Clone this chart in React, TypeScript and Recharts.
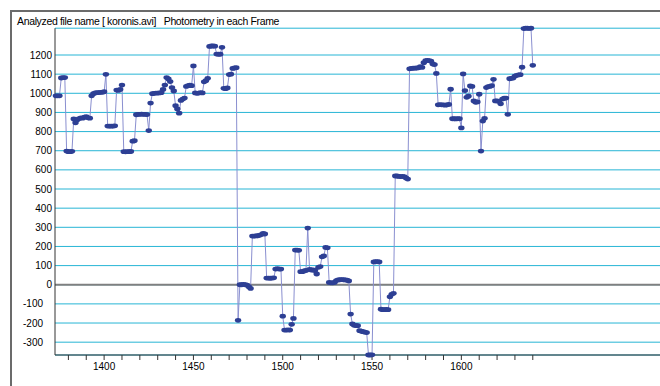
import React from "react";
import { LineChart, Line, XAxis, YAxis, CartesianGrid, ReferenceLine } from "recharts";

// photometry per frame, first frame = 1373
const firstFrame = 1373;
const brightness = [
  987, 987, 987, 1080, 1082, 1082, 698, 695, 695, 697,
  866, 846, 862, 868, 872, 870, 875, 878, 872, 870,
  987, 998, 1002, 1003, 1004, 1005, 1005, 1008, 1099, 829,
  829, 828, 829, 830, 1017, 1015, 1020, 1043, 695, 694,
  695, 695, 696, 750, 752, 888, 890, 890, 891, 890,
  890, 889, 805, 949, 998, 1000, 1001, 1001, 1002, 1003,
  1020, 1043, 1082, 1075, 1061, 1030, 1012, 935, 918, 896,
  963, 970, 975, 1036, 1040, 1042, 1040, 1143, 1002, 1000,
  1001, 1003, 1002, 1060, 1066, 1078, 1245, 1247, 1247, 1246,
  1205, 1204, 1204, 1240, 1026, 1024, 1028, 1098, 1100, 1130,
  1132, 1134, -186, 0, 0, 2, 0, -2, -10, -19,
  254, 254, 255, 256, 258, 262, 268, 265, 35, 35,
  34, 35, 36, 82, 84, 82, 82, -164, -237, -237,
  -236, -237, -207, -176, 181, 181, 180, 68, 68, 72,
  75, 296, 80, 77, 77, 75, 56, 91, 95, 146,
  150, 195, 193, 12, 10, 10, 12, 22, 25, 26,
  27, 26, 25, 24, 20, -153, -205, -212, -213, -214,
  -240, -243, -245, -248, -250, -367, -367, -366, 119, 120,
  121, 119, -128, -130, -130, -129, -130, -63, -50, -45,
  568, 568, 566, 565, 566, 565, 558, 552, 1128, 1130,
  1131, 1131, 1132, 1133, 1139, 1135, 1160, 1170, 1172, 1171,
  1168, 1153, 1150, 1104, 940, 941, 940, 940, 938, 940,
  942, 1021, 867, 867, 866, 868, 867, 819, 1101, 1014,
  979, 985, 1038, 1036, 960, 953, 955, 995, 698, 855,
  869, 1030, 1035, 1036, 1040, 1073, 960, 960, 958, 945,
  970, 974, 975, 890, 1076, 1078, 1080, 1090, 1094, 1096,
  1097, 1136, 1338, 1340, 1340, 1339, 1340, 1146,
];

const xTicks = [
  1380, 1390, 1400, 1410, 1420, 1430, 1440, 1450, 1460, 1470,
  1480, 1490, 1500, 1510, 1520, 1530, 1540, 1550, 1560, 1570,
  1580, 1590, 1600, 1610, 1620, 1630, 1640,
];
const xLabels = [1400, 1450, 1500, 1550, 1600];
const yTicks = [-300, -200, -100, 0, 100, 200, 300, 400, 500, 600, 700, 800, 900, 1000, 1100, 1200];

const data = brightness.map((v, i) => ({ frame: firstFrame + i, value: v }));

const FONT = '"Liberation Sans", Arial, sans-serif';

function YTick(props: any) {
  const { x, y, payload } = props;
  const v = payload.value as number;
  return (
    <text x={v < 0 ? x - 9 : x} y={y} dy={3.5} textAnchor="end" fontSize={10} fontFamily={FONT} fill="#000">
      {v}
    </text>
  );
}

function XTick(props: any) {
  const { x, y, payload } = props;
  if (!xLabels.includes(payload.value)) return <g />;
  return (
    <text x={x} y={y + 8} textAnchor="middle" fontSize={10} fontFamily={FONT} fill="#000">
      {payload.value}
    </text>
  );
}

function Dot(props: any) {
  const { cx, cy, index } = props;
  if (cx == null || cy == null) return <g key={index} />;
  return <ellipse key={index} cx={cx} cy={cy} rx={3.2} ry={2.4} fill="#2d3f94" />;
}

export default function App() {
  return (
    <div
      style={{
        position: "absolute",
        left: 0,
        top: 0,
        width: 660,
        height: 386,
        overflow: "hidden",
        background: "#fff",
      }}
    >
      <div
        style={{
          position: "absolute",
          left: 10,
          top: 10,
          width: 720,
          height: 420,
          borderTop: "2px solid #6b6b6b",
          borderLeft: "2px solid #6b6b6b",
        }}
      />
      <div
        style={{
          position: "absolute",
          left: 17,
          top: 15,
          fontFamily: FONT,
          fontSize: 10.5,
          letterSpacing: -0.35,
          whiteSpace: "pre",
          color: "#000",
        }}
      >
        {"Analyzed file name [ koronis.avi]   Photometry in each Frame"}
      </div>
      <div style={{ position: "absolute", left: 0, top: 0 }}>
        <LineChart
          width={720}
          height={400}
          data={data}
          margin={{ top: 28.2, right: 20.2, bottom: 15, left: 0 }}
        >
          <CartesianGrid vertical={false} stroke="#27b5d5" strokeWidth={1} />
          <ReferenceLine y={0} stroke="#808080" strokeWidth={2} />
          <XAxis
            dataKey="frame"
            type="number"
            domain={[1372.5, 1733.5]}
            ticks={xTicks}
            interval={0}
            height={30}
            tickSize={5}
            tickMargin={2}
            tick={<XTick />}
            axisLine={{ stroke: "#333" }}
            tickLine={{ stroke: "#333" }}
          />
          <YAxis
            type="number"
            domain={[-367, 1340]}
            ticks={yTicks}
            interval={0}
            width={55}
            tickSize={0}
            tickMargin={3}
            tickLine={false}
            tick={<YTick />}
            axisLine={{ stroke: "#333" }}
          />
          <Line
            type="linear"
            dataKey="value"
            stroke="#8a8fd0"
            strokeWidth={1}
            dot={Dot}
            activeDot={false}
            isAnimationActive={false}
          />
        </LineChart>
      </div>
    </div>
  );
}
